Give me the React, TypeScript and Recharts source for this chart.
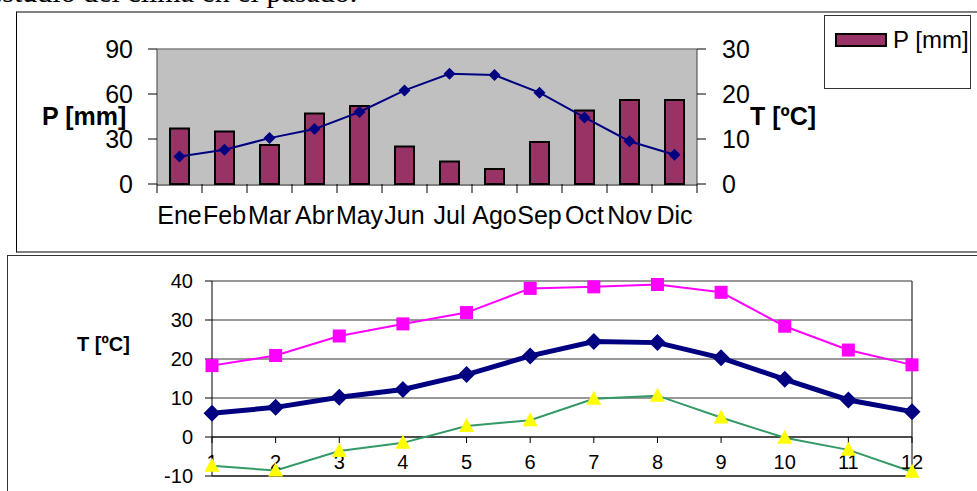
import React from "react";
import {
  Bar,
  CartesianGrid,
  ComposedChart,
  Label,
  Legend,
  Line,
  LineChart,
  ReferenceDot,
  ReferenceLine,
  XAxis,
  YAxis,
} from "recharts";

const meses = ["Ene", "Feb", "Mar", "Abr", "May", "Jun", "Jul", "Ago", "Sep", "Oct", "Nov", "Dic"];
const mesNumeros = [1, 2, 3, 4, 5, 6, 7, 8, 9, 10, 11, 12];
const precipitacion = [37, 35, 26, 47, 52, 25, 15, 10, 28, 49, 56, 56];
const tMedia = [6.1, 7.6, 10.2, 12.2, 16, 20.8, 24.5, 24.2, 20.3, 14.8, 9.5, 6.5];
const tMaxima = [18.3, 20.9, 25.9, 29, 31.9, 38.1, 38.5, 39.1, 37.1, 28.4, 22.3, 18.5];
const tMinima = [-7.4, -8.6, -3.6, -1.5, 2.8, 4.3, 9.8, 10.6, 5, -0.2, -3.3, -8.9];

const pTicks = [0, 30, 60, 90];
const tTicksArriba = [0, 10, 20, 30];
const tTicksAbajo = [-10, 0, 10, 20, 30, 40];

// "centro" = middle of each month slot on the 0..12 boundary axis
const climaData = meses.map((mes, i) => ({ mes, centro: i + 0.5, p: precipitacion[i], t: tMedia[i] }));
const tempData = mesNumeros.map((n, i) => ({ n, max: tMaxima[i], media: tMedia[i], min: tMinima[i] }));
// category boundaries 0..12 for the Excel-style tick marks
const bordes = [0, ...mesNumeros];

const SANS = "'Liberation Sans', Arial, sans-serif";

const diamond = (r: number, color: string) => (props: any) => {
  const { cx, cy, index } = props;
  if (cx == null || cy == null) return <g key={index} />;
  return (
    <polygon
      key={index}
      points={`${cx},${cy - r} ${cx + r},${cy} ${cx},${cy + r} ${cx - r},${cy}`}
      fill={color}
    />
  );
};

const square = (props: any) => {
  const { cx, cy, index } = props;
  if (cx == null || cy == null) return <g key={index} />;
  return <rect key={index} x={cx - 6.5} y={cy - 6.5} width={13} height={13} fill="#FF00FF" />;
};

const triangle = (props: any) => {
  const { cx, cy, index } = props;
  if (cx == null || cy == null) return <g key={index} />;
  return (
    <polygon
      key={index}
      points={`${cx},${cy - 8} ${cx + 7.5},${cy + 6} ${cx - 7.5},${cy + 6}`}
      fill="#FFFF00"
    />
  );
};

const sinTexto = () => <g />;

const LegendBox = (props: any) => {
  const payload = (props.payload || []).filter((e: any) => e.type !== "none" && e.dataKey === "p");
  return (
    <div
      style={{
        width: 147,
        height: 74,
        boxSizing: "border-box",
        border: "1px solid #333",
        background: "#fff",
        padding: "12px 0 0 10px",
      }}
    >
      {payload.map((entry: any) => (
        <div key={entry.value} style={{ display: "flex", alignItems: "center", fontSize: 24, lineHeight: "24px" }}>
          <span
            style={{
              display: "inline-block",
              width: 48,
              height: 10,
              background: "#993366",
              border: "2px solid #000",
              marginRight: 6,
            }}
          />
          <span style={{ color: "#000" }}>{entry.value}</span>
        </div>
      ))}
    </div>
  );
};

const mesTick = (n: number) => (props: any) => {
  const { cx, cy } = props;
  if (cx == null || cy == null) return <g />;
  return (
    <g>
      <line x1={cx} y1={cy} x2={cx} y2={cy + 6} stroke="#000" />
      <text x={cx} y={cy + 32} textAnchor="middle" fontSize={20} fill="#000">
        {n}
      </text>
    </g>
  );
};

export default function App() {
  return (
    <div
      style={{
        position: "fixed",
        left: 0,
        top: 0,
        width: 977,
        height: 491,
        overflow: "hidden",
        background: "#fff",
        fontFamily: SANS,
      }}
    >
      <div
        style={{
          position: "absolute",
          left: -11,
          top: -23,
          fontFamily: "'Liberation Serif', 'Times New Roman', serif",
          fontSize: 30,
          lineHeight: "30px",
          whiteSpace: "nowrap",
          color: "#000",
        }}
      >
        estudio del clima en el pasado.
      </div>

      <div
        style={{
          position: "absolute",
          left: 16,
          top: 11,
          width: 980,
          height: 238,
          borderLeft: "1px solid #000",
          borderTop: "2px solid #808080",
          borderBottom: "2px solid #808080",
        }}
      />
      <div
        style={{
          position: "absolute",
          left: 7,
          top: 255,
          width: 990,
          height: 300,
          borderLeft: "1px solid #333",
          borderTop: "1px solid #333",
        }}
      />

      <div style={{ position: "absolute", left: 0, top: 0 }}>
        <ComposedChart width={977} height={250} data={climaData} margin={{ top: 49, right: 160, bottom: 0, left: 0 }}>
          <CartesianGrid horizontal={false} vertical={false} fill="#C0C0C0" yAxisId="left" xAxisId="meses" />
          <XAxis
            xAxisId={0}
            dataKey="centro"
            type="number"
            domain={[0, 12]}
            allowDataOverflow
            ticks={bordes}
            interval={0}
            tick={sinTexto}
            tickSize={9}
            tickLine={{ stroke: "#000" }}
            axisLine={false}
            height={1}
          />
          <XAxis
            xAxisId="meses"
            dataKey="mes"
            height={65}
            interval={0}
            tickLine={false}
            tickSize={0}
            tickMargin={21}
            axisLine={{ stroke: "#000" }}
            tick={{ fontSize: 25, fill: "#000" }}
          />
          <YAxis
            yAxisId="left"
            width={157}
            domain={[0, 90]}
            ticks={pTicks}
            tickSize={9}
            tickMargin={15}
            axisLine={{ stroke: "#404040" }}
            tickLine={{ stroke: "#000" }}
            tick={{ fontSize: 25, fill: "#000" }}
          >
            <Label value="P [mm]" position="insideLeft" offset={42} fontSize={25} fontWeight="bold" fill="#000" />
          </YAxis>
          <YAxis
            yAxisId="right"
            orientation="right"
            width={120}
            domain={[0, 30]}
            ticks={tTicksArriba}
            tickSize={9}
            tickMargin={16}
            axisLine={{ stroke: "#404040" }}
            tickLine={{ stroke: "#000" }}
            tick={{ fontSize: 25, fill: "#000" }}
          >
            <Label value="T [ºC]" position="insideLeft" offset={53} fontSize={25} fontWeight="bold" fill="#000" />
          </YAxis>
          <ReferenceLine yAxisId="left" xAxisId="meses" y={90} stroke="#808080" strokeWidth={1.5} />
          <Bar
            xAxisId="meses"
            yAxisId="left"
            dataKey="p"
            name="P [mm]"
            barSize={19}
            fill="#993366"
            stroke="#000"
            strokeWidth={2}
            isAnimationActive={false}
          />
          <Line
            xAxisId="meses"
            yAxisId="right"
            type="linear"
            dataKey="t"
            stroke="#000080"
            strokeWidth={2}
            dot={diamond(6, "#000080")}
            legendType="none"
            isAnimationActive={false}
          />
          <Legend
            layout="vertical"
            align="center"
            verticalAlign="middle"
            wrapperStyle={{ left: 824, top: 15, width: 147, height: 74 }}
            content={LegendBox}
          />
        </ComposedChart>
      </div>

      <div style={{ position: "absolute", left: 0, top: 256 }}>
        <LineChart width={977} height={235} data={tempData} margin={{ top: 25, right: 65, bottom: 0, left: 0 }}>
          <CartesianGrid vertical={false} stroke="#333" />
          <XAxis
            dataKey="n"
            type="number"
            domain={[1, 12]}
            ticks={mesNumeros}
            tick={false}
            tickLine={false}
            height={15}
            axisLine={{ stroke: "#000" }}
          />
          <YAxis
            width={212}
            domain={[-10, 40]}
            ticks={tTicksAbajo}
            tickSize={7}
            tickMargin={12}
            axisLine={{ stroke: "#000" }}
            tickLine={{ stroke: "#000" }}
            tick={{ fontSize: 20, fill: "#000" }}
          >
            <Label value="T [ºC]" position="insideLeft" offset={77} dy={-35} fontSize={20} fontWeight="bold" fill="#000" />
          </YAxis>
          <ReferenceLine y={0} stroke="#000" />
          <ReferenceLine x={12} stroke="#000" />
          {mesNumeros.map((n) => (
            <ReferenceDot key={n} x={n} y={0} r={0} shape={mesTick(n)} />
          ))}
          <Line
            type="linear"
            dataKey="min"
            stroke="#339966"
            strokeWidth={2}
            dot={triangle}
            isAnimationActive={false}
          />
          <Line
            type="linear"
            dataKey="max"
            stroke="#FF00FF"
            strokeWidth={2}
            dot={square}
            isAnimationActive={false}
          />
          <Line
            type="linear"
            dataKey="media"
            stroke="#000080"
            strokeWidth={5}
            dot={diamond(8.5, "#000080")}
            isAnimationActive={false}
          />
        </LineChart>
      </div>
    </div>
  );
}
